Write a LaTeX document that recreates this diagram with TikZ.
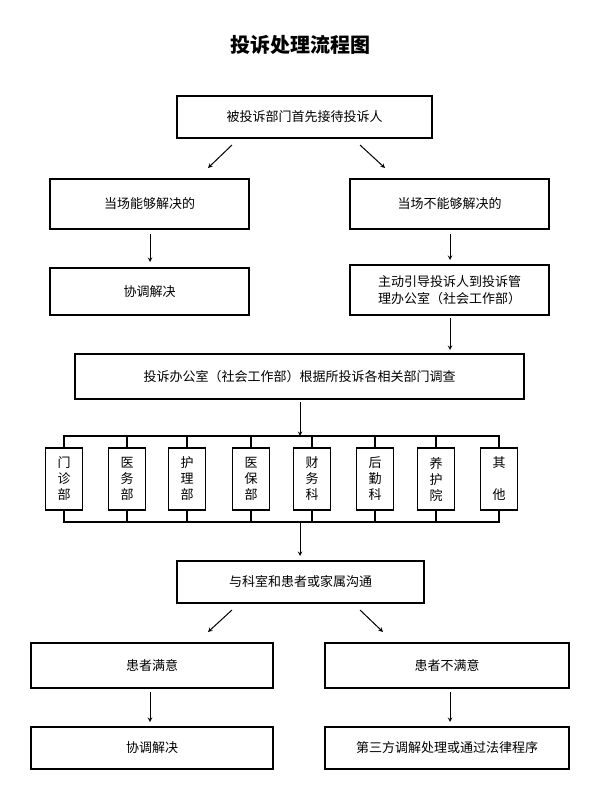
\documentclass[tikz,border=0pt]{standalone}
\usepackage{fontspec}
\setmainfont{Noto Sans CJK SC}
\begin{document}
\begin{tikzpicture}[x=1pt,y=-1pt,
  box/.style={draw,line width=1.5pt,font=\fontsize{13}{17}\selectfont,inner sep=0pt,align=center},
  dep/.style={draw,line width=1.5pt,minimum width=37pt,minimum height=62pt,font=\fontsize{13}{16}\selectfont,inner sep=0pt,align=center},
  arr/.style={->,line width=1pt,>=stealth},
  bus/.style={line width=1.5pt}]
\useasboundingbox (0,0) rectangle (600,800);
\node[font=\fontsize{20}{24}\selectfont\bfseries] (t) at (300,45) {投诉处理流程图};
\newcommand\bx[6]{\node[box,minimum width=#4-#2,minimum height=#5-#3] (#1) at ({(#2+#4)/2},{(#3+#5)/2}) {#6};}
\bx{a}{177}{96}{432}{138}{被投诉部门首先接待投诉人}
\bx{bl}{50}{179}{249}{229}{当场能够解决的}
\bx{br}{350}{179}{549}{229}{当场不能够解决的}
\bx{cl}{50}{268}{249}{315}{协调解决}
\bx{cr}{350}{265}{549}{315}{主动引导投诉人到投诉管\\理办公室（社会工作部）}
\bx{d}{75}{354}{524}{399}{投诉办公室（社会工作部）根据所投诉各相关部门调查}
\bx{e}{177}{561}{424}{603}{与科室和患者或家属沟通}
\bx{fl}{31}{643}{273}{688}{患者满意}
\bx{fr}{325}{643}{569}{688}{患者不满意}
\bx{gl}{31}{727}{273}{769}{协调解决}
\bx{gr}{325}{727}{569}{769}{第三方调解处理或通过法律程序}
\coordinate (bt) at (300,436);
\coordinate (bb) at (300,522);
\draw[bus] (63,436) -- (500,436);
\draw[bus] (63,522) -- (500,522);
\foreach \x/\n/\t in {64/p1/门\\诊\\部,127/p2/医\\务\\部,187/p3/护\\理\\部,251/p4/医\\保\\部,312/p5/财\\务\\科,375/p6/后\\勤\\科,436/p7/养\\护\\院,499/p8/其\\ \\他}{
  \node[dep] (\n) at (\x,479) {\t};
  \draw[bus] (\n.north) -- (\x,436);
  \draw[bus] (\n.south) -- (\x,522);
}
\coordinate (a1) at (232,145); \coordinate (a2) at (208,168);
\coordinate (a3) at (360,145); \coordinate (a4) at (385,168);
\draw[arr] (a1) -- (a2); \draw[arr] (a3) -- (a4);
\draw[arr] (150,234) -- (150,262);
\draw[arr] (450,234) -- (450,260);
\draw[arr] (450,318) -- (450,350);
\draw[arr] (300,402) -- (bt);
\draw[arr] (bb) -- (300,556);
\coordinate (e1) at (232,610); \coordinate (e2) at (208,632);
\coordinate (e3) at (360,610); \coordinate (e4) at (383,632);
\draw[arr] (e1) -- (e2); \draw[arr] (e3) -- (e4);
\draw[arr] (150,692) -- (150,722);
\draw[arr] (450,692) -- (450,722);
\end{tikzpicture}
\end{document}
